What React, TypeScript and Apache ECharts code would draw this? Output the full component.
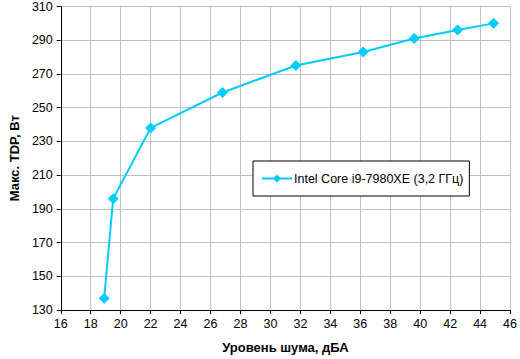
import React, { useEffect, useRef } from "react";
import * as echarts from "echarts";

const seriesName = "Intel Core i9-7980XE (3,2 ГГц)";
const noiseDbA = [18.9, 19.5, 22.0, 26.8, 31.7, 36.2, 39.6, 42.5, 44.9];
const tdpW = [137, 196, 238, 259, 275, 283, 291, 296, 300];
const xTitle = "Уровень шума, дБА";
const yTitle = "Макс. TDP, Вт";

export default function App() {
  const ref = useRef<HTMLDivElement>(null);
  useEffect(() => {
    if (!ref.current) return;
    const chart = echarts.init(ref.current, null, { renderer: "svg" });
    const font = "Arial, 'Liberation Sans', sans-serif";
    chart.setOption({
      animation: false,
      backgroundColor: "#ffffff",
      textStyle: { fontFamily: font },
      grid: { left: 53, top: 5, right: 6, bottom: 45, containLabel: false },
      legend: {
        show: true,
        left: 253,
        top: 161,
        orient: "horizontal",
        borderColor: "#000000",
        borderWidth: 1,
        backgroundColor: "#ffffff",
        padding: [11, 6, 11, 8],
        itemWidth: 30,
        itemHeight: 10,
        textStyle: { fontFamily: font, fontSize: 12.5, color: "#000000", padding: [0, 0, 0, -3] },
        data: [seriesName],
      },
      xAxis: {
        type: "value",
        min: 16,
        max: 46,
        interval: 2,
        name: xTitle,
        nameLocation: "middle",
        nameGap: 31,
        nameTextStyle: { fontFamily: font, fontSize: 13, fontWeight: "bold", color: "#000000" },
        axisLine: { show: true, onZero: false, lineStyle: { color: "#000000", width: 1 } },
        axisTick: { show: true, length: 4, lineStyle: { color: "#000000" } },
        axisLabel: { fontFamily: font, fontSize: 12.5, color: "#000000", margin: 7 },
        splitLine: { show: true, lineStyle: { color: "#c0c0c0", width: 1 } },
      },
      yAxis: {
        type: "value",
        min: 130,
        max: 310,
        interval: 20,
        name: yTitle,
        nameLocation: "middle",
        nameGap: 39,
        nameRotate: 90,
        nameTextStyle: { fontFamily: font, fontSize: 13, fontWeight: "bold", color: "#000000" },
        axisLine: { show: true, onZero: false, lineStyle: { color: "#000000", width: 1 } },
        axisTick: { show: true, length: 4, lineStyle: { color: "#000000" } },
        axisLabel: { fontFamily: font, fontSize: 12.5, color: "#000000", margin: 8 },
        splitLine: { show: true, lineStyle: { color: "#c0c0c0", width: 1 } },
      },
      series: [
        {
          name: seriesName,
          type: "line",
          data: noiseDbA.map((x, i) => [x, tdpW[i]]),
          symbol: "diamond",
          symbolSize: 11,
          lineStyle: { color: "#00ccff", width: 2 },
          itemStyle: { color: "#00ccff" },
        },
      ],
    });
    return () => chart.dispose();
  }, []);
  return <div ref={ref} style={{ width: 520, height: 359, position: "absolute", left: 0, top: 0 }} />;
}
